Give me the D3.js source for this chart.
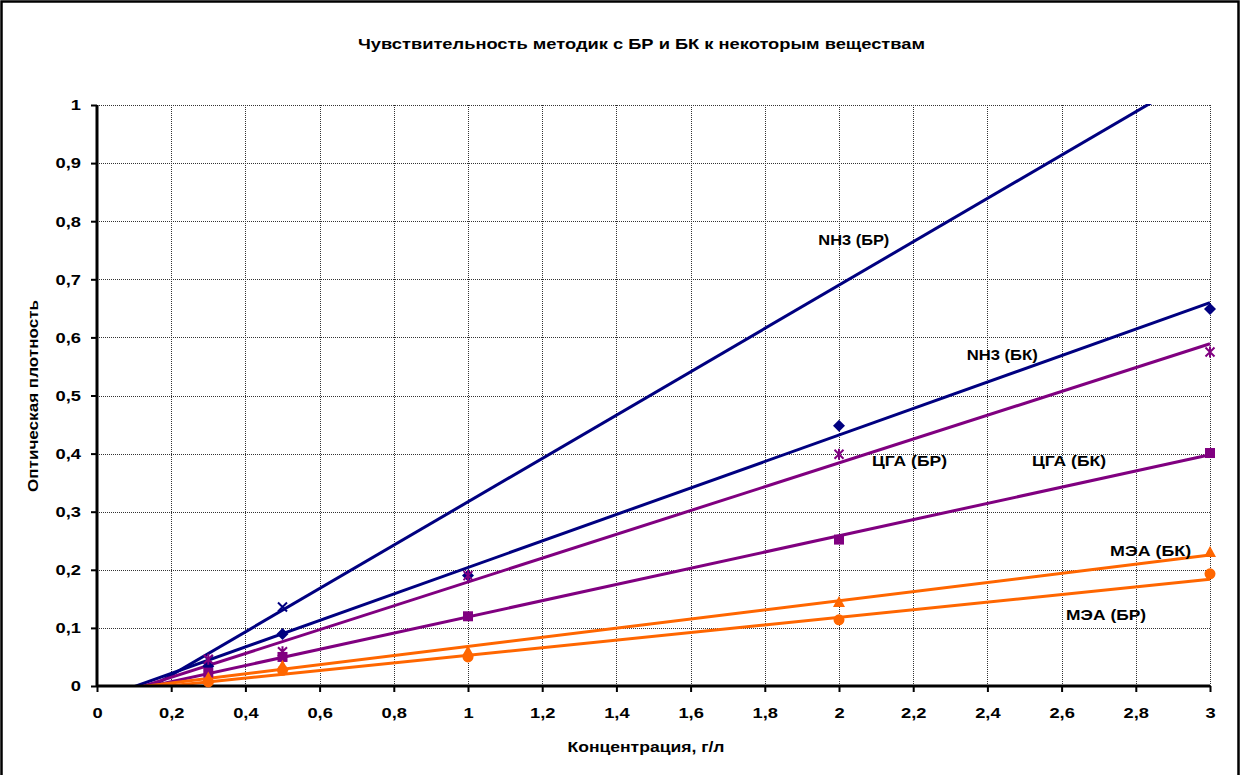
<!DOCTYPE html>
<html><head><meta charset="utf-8">
<script src="https://cdn.jsdelivr.net/npm/d3@7"></script>
<style>
html,body{margin:0;padding:0;background:#fff;}
svg text{font-family:"Liberation Sans",Arial,sans-serif;font-weight:bold;fill:#000;}
</style></head>
<body><svg id="c" width="1242" height="775"></svg>
<script>
// ---- data ----
const concentrations = [0.3, 0.5, 1, 2, 3];
const seriesNames = ["NH3 (БР)", "NH3 (БК)", "ЦГА (БР)", "ЦГА (БК)", "МЭА (БК)", "МЭА (БР)"];
const nh3BR = [0.045, 0.136, null, null, null];
const nh3BK = [0.034, 0.0895, 0.19, 0.448, 0.649];
const cgaBR = [0.046, 0.059, 0.19, 0.399, 0.575];
const cgaBK = [0.023, 0.05, 0.12, 0.252, 0.401];
const meaBK = [0.013, 0.033, 0.058, 0.143, 0.229];
const meaBR = [0.007, 0.027, 0.05, 0.114, 0.193];
// linear trendlines
const trendSlopes = [0.373, 0.228, 0.205, 0.1395, 0.0787, 0.0654];
const trendIntercepts = [-0.056, -0.024, -0.026, -0.0205, -0.0106, -0.0126];
const xTicks = [0,0.2,0.4,0.6,0.8,1,1.2,1.4,1.6,1.8,2,2.2,2.4,2.6,2.8,3];
const yTicks = [0,0.1,0.2,0.3,0.4,0.5,0.6,0.7,0.8,0.9,1];
// label anchors (data units: concentration, density)
const labelX = [2.04, 2.44, 2.19, 2.62, 2.84, 2.72];
const labelY = [0.759, 0.561, 0.378, 0.378, 0.224, 0.114];

const colors = ["#000080","#000080","#800080","#800080","#FF6600","#FF6600"];
const markers = ["x","diamond","asterisk","square","triangle","circle"];
const seriesValues = [nh3BR, nh3BK, cgaBR, cgaBK, meaBK, meaBR];

const svg = d3.select("#c");
const m = {l:97, r:1210, t:105, b:686};
const x = d3.scaleLinear().domain([0,3]).range([m.l, m.r]);
const y = d3.scaleLinear().domain([0,1]).range([m.b, m.t]);
const fmt = d => String(d).replace(".", ",");

// outer border
svg.append("rect").attr("x",1.5).attr("y",1.5).attr("width",1237).attr("height",820)
  .attr("fill","#fff").attr("stroke","#000").attr("stroke-width",2.5);

// title
svg.append("text").attr("x",641.5).attr("y",49).attr("text-anchor","middle")
  .style("font-size","15px").attr("textLength",567).attr("lengthAdjust","spacingAndGlyphs")
  .text("Чувствительность методик с БР и БК к некоторым веществам");

// grid
const grid = svg.append("g").attr("stroke","#333").attr("stroke-width",1).attr("stroke-dasharray","1,1");
grid.selectAll("line.v").data(xTicks.filter(d=>d>0)).join("line")
  .attr("x1",d=>Math.round(x(d))+0.5).attr("x2",d=>Math.round(x(d))+0.5).attr("y1",m.t).attr("y2",m.b);
grid.selectAll("line.h").data(yTicks.filter(d=>d>0)).join("line")
  .attr("y1",d=>Math.round(y(d))+0.5).attr("y2",d=>Math.round(y(d))+0.5).attr("x1",m.l).attr("x2",m.r);

// clip
svg.append("clipPath").attr("id","pc").append("rect")
  .attr("x",m.l).attr("y",m.t-1).attr("width",m.r-m.l+1).attr("height",m.b-m.t+1);

// trendlines
const tl = svg.append("g").attr("clip-path","url(#pc)");
seriesValues.forEach((vals,i)=>{
  const pts = [0,3].map(c=>[x(c), y(trendSlopes[i]*c + trendIntercepts[i])]);
  tl.append("path").attr("d", d3.line()(pts)).attr("fill","none")
    .attr("stroke",colors[i]).attr("stroke-width",3);
});

// axes
const xAxis = d3.axisBottom(x).tickValues(xTicks).tickFormat(fmt).tickSize(6).tickPadding(15);
const yAxis = d3.axisLeft(y).tickValues(yTicks).tickFormat(fmt).tickSize(6).tickPadding(10);
const gx = svg.append("g").attr("transform",`translate(0,${m.b})`).call(xAxis);
const gy = svg.append("g").attr("transform",`translate(${m.l},0)`).call(yAxis);
[gx,gy].forEach(g=>{
  g.select(".domain").attr("stroke","#000").attr("stroke-width",3);
  g.selectAll(".tick line").attr("stroke","#000").attr("stroke-width",2);
  g.selectAll(".tick text").style("font-size","15px").attr("font-family",null)
    .style("font-family",'"Liberation Sans",Arial,sans-serif').style("font-weight","bold")
    .each(function(){ const w=this.getComputedTextLength();
      d3.select(this).attr("textLength",w*1.22).attr("lengthAdjust","spacingAndGlyphs"); });
});
gx.select(".domain").attr("d",`M${m.l},0H${m.r}`);
gy.select(".domain").attr("d",`M0,${m.b+1}V${m.t}`);

// markers
const mk = svg.append("g");
seriesValues.forEach((vals,i)=>{
  vals.forEach((v,j)=>{
    if (v===null) return;
    const cx = x(concentrations[j]), cy = y(v), c = colors[i];
    const t = markers[i];
    if (t==="diamond") mk.append("path").attr("d",`M${cx},${cy-6}L${cx+6},${cy}L${cx},${cy+6}L${cx-6},${cy}Z`).attr("fill",c);
    else if (t==="square") mk.append("rect").attr("x",cx-5).attr("y",cy-5).attr("width",10).attr("height",10).attr("fill",c);
    else if (t==="triangle") mk.append("path").attr("d",`M${cx},${cy-7}L${cx+6},${cy+4}L${cx-6},${cy+4}Z`).attr("fill",c);
    else if (t==="circle") mk.append("circle").attr("cx",cx).attr("cy",cy).attr("r",5.5).attr("fill",c);
    else if (t==="x") mk.append("path").attr("d",`M${cx-4.5},${cy-4.5}L${cx+4.5},${cy+4.5}M${cx-4.5},${cy+4.5}L${cx+4.5},${cy-4.5}`).attr("stroke",c).attr("stroke-width",2);
    else if (t==="asterisk") mk.append("path").attr("d",`M${cx-4.5},${cy-4.5}L${cx+4.5},${cy+4.5}M${cx-4.5},${cy+4.5}L${cx+4.5},${cy-4.5}M${cx},${cy-5.5}V${cy+5.5}`).attr("stroke",c).attr("stroke-width",2);
  });
});

// series labels
const labelW = [71, 71, 75, 74, 81, 80];
svg.append("g").selectAll("text").data(seriesNames).join("text")
  .attr("x",(d,i)=>x(labelX[i])).attr("y",(d,i)=>y(labelY[i]))
  .attr("text-anchor","middle").style("font-size","15px")
  .attr("textLength",(d,i)=>labelW[i]).attr("lengthAdjust","spacingAndGlyphs")
  .text(d=>d);

// axis titles
svg.append("text").attr("x",646).attr("y",752).attr("text-anchor","middle")
  .style("font-size","15px").attr("textLength",157).attr("lengthAdjust","spacingAndGlyphs")
  .text("Концентрация, г/л");
svg.append("text").attr("transform","translate(38,396) rotate(-90)").attr("text-anchor","middle")
  .style("font-size","15px").attr("textLength",192).attr("lengthAdjust","spacingAndGlyphs")
  .text("Оптическая плотность");
</script></body></html>
